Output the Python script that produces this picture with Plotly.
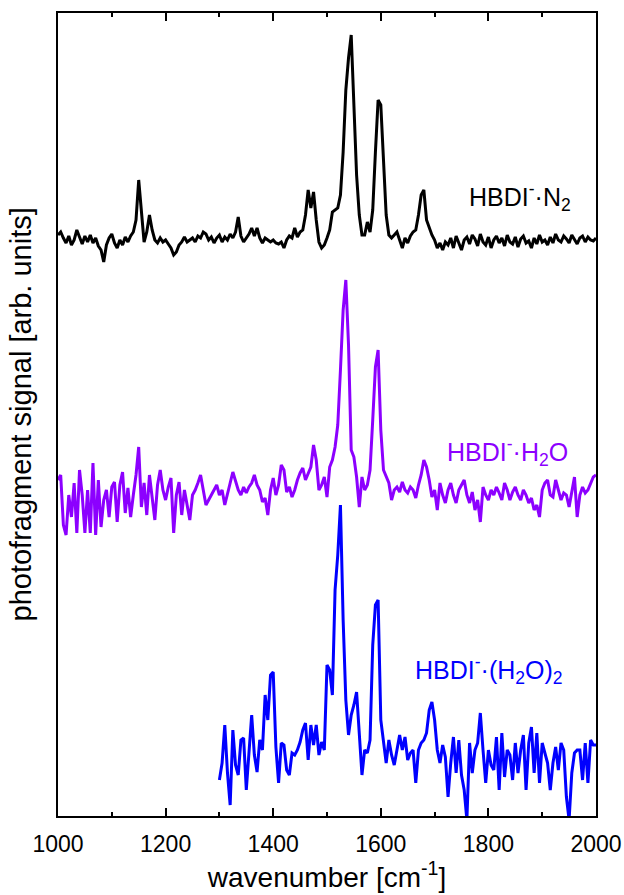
import numpy as np
import plotly.graph_objects as go

# ---------------- data ----------------
# wavenumber grid: start and step (cm^-1)
n2_start, h2o_start, h2o2_start = 1000, 1000, 1300
step = 5

# HBDI-·N2 (black), signal relative to its own baseline
n2_signal = [
    5, 8, 2, -3, 4, -5, 0, 10, 3, -4,
    4, -2, 5, -3, 2, -6, -10, -22, -5, 2,
    6, -3, -8, 0, -5, 3, -2, 4, 8, 20,
    60, 30, -2, 8, 25, 10, 0, -3, 2, -2,
    0, -4, -8, -15, -12, -5, -2, 3, -2, 0,
    2, -2, 4, 2, 8, 6, 0, 3, -3, 2,
    5, -2, 3, 0, 6, 2, 8, 23, 4, -2,
    2, 6, 12, 4, 12, 2, -3, 2, 0, -2,
    0, -3, -4, -2, -8, 0, 4, 2, 12, 3,
    8, 10, 25, 50, 32, 48, 20, -2, -8, -5,
    2, 10, 28, 30, 32, 45, 88, 150, 182, 205,
    125, 65, 25, 5, 5, 18, 8, 30, 88, 140,
    135, 72, 25, 5, 2, 5, 8, 0, -8, 2,
    -3, 4, 8, 10, 25, 45, 50, 20, 12, 5,
    0, -8, -3, -10, -2,
    -5, 2, -8, 4, -3, -10, 0, 3, -4, 5,
    1, -6, 6, -2, -5, 3, -8, 0, 4, -3,
    2, -6, 5, -2, -4, 3, -7, 1, 4, -3,
    -1, -8, 2, -4, 5, -2, 0, -5, 3, -3,
    6, 0, -2, 4, 1, -3, 5, 0, -4, 2,
    4, -2, 3, 0, -1, 2,
]

# HBDI-·H2O (violet)
h2o_signal = [
    15, 20, -30, -40, 0, -22, 12, -38, 25, 0,
    -38, 5, -38, 32, -40, 15, -32, -5, 5, -22,
    8, 13, -27, 10, 23, -18, 7, -22, 0, 20,
    48, -12, 12, -20, 20, -5, -25, 10, 25, 5,
    -5, 8, 17, -38, 0, 13, -20, 5, -10, -25,
    0, 5, 12, 20, 5, -10, -5, 0, 5, 10,
    0, 5, -10, 0, 12, 23, 15, 5, 0, 8,
    2, 8, 12, 20, 10, 5, -7, -3, -20, 5,
    17, 0, 10, 30, 25, 3, 8, -2, 5, 15,
    22, 27, 15, 22, 28, 50, 35, 5, 10, 18,
    -2, 28, 35, 48, 70, 125, 185, 215, 150, 45,
    38, 18, -12, 18, 5, 10, 25, 75, 128, 145,
    65, 25, 18, 12, -5, 5, 8, 3, 13, 5,
    2, 8, 5, -3, 10, 20, 35, 28, 15, -2,
    5, -15, 12, 0, -8, 5, 12, 0, -8, 5,
    10, 15, 0, -8, 3, -15, -5, -27, 8, 0,
    -5, 5, 0, 8, 2, -5, 12, 5, -5, 3,
    8, 0, -5, 5, 0, -8, -3, -15, -10, -22,
    5, 12, 15, 0, -2, 15, 5, -5, 2, 0,
    -12, 5, 18, -22, 0, 8, 2, 5, 12, 18,
    20,
]

# HBDI-·(H2O)2 (blue)
h2o2_signal = [
    -30, -13, 25, -23, -55, 20, -15, -25, 10, 12,
    -40, 0, 35, -5, -22, 10, 0, 55, 30, 75,
    78, 3, -33, 7, 5, -20, -25, -3, -5, 0,
    8, 20, 27, -10, 25, 5, 25, -5, 8, 0,
    85, 80, 55, 160, 195, 245, 130, 50, 15, 35,
    45, 58, 10, -25, 0, -3, 10, 105, 145, 150,
    30, 5, -13, 10, -5, -15, 0, 15, 0, 13,
    -10, -3, 0, -33, 0, 7, 10, 17, 40, 48,
    30, 0, -13, 5, -7, -47, -13, 13, -23, 10,
    -25, -40, -70, 7, -23, 0, 7, 37, 0, -33,
    0, -15, -20, 13, -40, 17, -27, 0, -5, -30,
    7, -23, 0, 15, -40, 7, 23, -23, 17, -33,
    7, -3, -13, -40, -13, 3, -20, 7, 0, -47,
    -70, -23, -3, 0, 0, -30, 7, -33, 10, 5,
    5,
]

# vertical offsets used to stack the spectra
n2_offset, h2o_offset, h2o2_offset = 576, 321, 66

x_ticks = [1000, 1200, 1400, 1600, 1800, 2000]
labels = ["HBDI<sup>-</sup>·N<sub>2</sub>",
          "HBDI<sup>-</sup>·H<sub>2</sub>O",
          "HBDI<sup>-</sup>·(H<sub>2</sub>O)<sub>2</sub>"]
colors = ["#000000", "#8C00FF", "#0000FF"]

# ---------------- figure ----------------
def grid(start, vals):
    return start + step * np.arange(len(vals))

series = [
    (grid(n2_start, n2_signal), np.array(n2_signal) + n2_offset),
    (grid(h2o_start, h2o_signal), np.array(h2o_signal) + h2o_offset),
    (grid(h2o2_start, h2o2_signal), np.array(h2o2_signal) + h2o2_offset),
]

fig = go.Figure()
for (xv, yv), c, name in zip(series, colors, labels):
    fig.add_trace(go.Scatter(x=xv, y=yv, mode="lines", name=name,
                             line=dict(color=c, width=3), showlegend=False))

FONT = "Liberation Sans, Arial, sans-serif"
ann_pos = [(1760, 619), (1719, 364), (1660, 146)]
for (ax, ay), c, t in zip(ann_pos, colors, labels):
    fig.add_annotation(x=ax, y=ay, text=t, showarrow=False, xanchor="left",
                       yanchor="middle", font=dict(family=FONT, size=25, color=c))

# y-axis title placed just left of the frame
fig.add_annotation(x=0, y=0.5, xref="paper", yref="paper", xanchor="center",
                   yanchor="middle", xshift=-38, textangle=-90, showarrow=False,
                   text="photofragment signal [arb. units]",
                   font=dict(family=FONT, size=29, color="black"))

fig.update_layout(
    width=624, height=895,
    margin=dict(l=58, r=28, t=13, b=79, autoexpand=False),
    plot_bgcolor="white", paper_bgcolor="white",
    font=dict(family=FONT, color="black"),
)
fig.update_xaxes(
    range=[1000, 2000], tickvals=x_ticks, ticks="inside", ticklen=8, tickwidth=2,
    tickcolor="black", showline=True, linewidth=2, linecolor="black", mirror="ticks",
    showgrid=False, zeroline=False, tickfont=dict(size=23), ticklabelstandoff=6,
    minor=dict(ticks="inside", ticklen=4, tickwidth=2, dtick=100, tick0=1000,
               tickcolor="black", showgrid=False),
    title=dict(text="wavenumber [cm<sup>-1</sup>]", font=dict(size=28), standoff=12),
)
fig.update_yaxes(
    range=[0, 803], showticklabels=False, ticks="", showline=True, linewidth=2,
    linecolor="black", mirror=True, showgrid=False, zeroline=False,
)

# remove the default page margin so the figure fills the window exactly
fig.write_html("out.html", config={"displayModeBar": False},
               post_script="document.body.style.margin='0';"
                           "document.body.style.overflow='hidden';")
